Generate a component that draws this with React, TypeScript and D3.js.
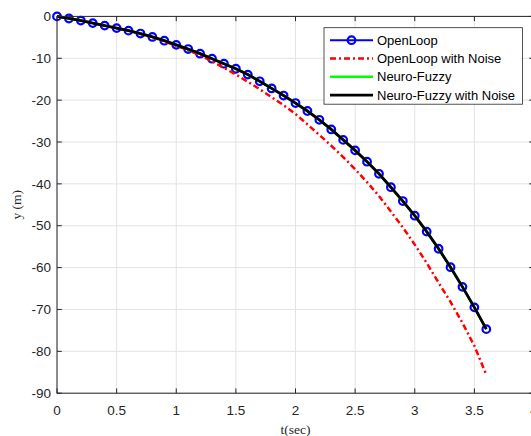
import React from 'react';
import * as d3 from 'd3';

const tValues = [0, 0.1, 0.2, 0.3, 0.4, 0.5, 0.6, 0.7, 0.8, 0.9, 1.0, 1.1, 1.2, 1.3, 1.4, 1.5, 1.6, 1.7, 1.8, 1.9, 2.0, 2.1, 2.2, 2.3, 2.4, 2.5, 2.6, 2.7, 2.8, 2.9, 3.0, 3.1, 3.2, 3.3, 3.4, 3.5, 3.6];

const openLoop = [0, -0.5, -1.0, -1.6, -2.2, -2.8, -3.4, -4.1, -4.9, -5.8, -6.8, -7.8, -8.9, -10.1, -11.3, -12.5, -13.9, -15.5, -17.2, -18.9, -20.7, -22.6, -24.7, -27.0, -29.5, -32.0, -34.7, -37.6, -40.8, -44.1, -47.6, -51.4, -55.5, -59.9, -64.6, -69.5, -74.7];

const openLoopNoise = [0, -0.5, -1.0, -1.6, -2.2, -2.8, -3.4, -4.2, -5.0, -6.0, -7.0, -8.1, -9.3, -10.7, -12.3, -13.9, -15.6, -17.4, -19.3, -21.2, -23.3, -25.8, -28.3, -30.9, -33.6, -36.5, -39.6, -42.9, -46.6, -50.4, -54.5, -58.9, -63.6, -68.2, -73.2, -78.7, -85.6];

const neuroFuzzy = [0, -0.5, -1.0, -1.6, -2.2, -2.8, -3.4, -4.1, -4.9, -5.8, -6.8, -7.8, -8.9, -10.1, -11.3, -12.5, -13.9, -15.5, -17.2, -18.9, -20.7, -22.6, -24.7, -27.0, -29.5, -32.0, -34.7, -37.6, -40.8, -44.1, -47.6, -51.4, -55.5, -59.9, -64.6, -69.5, -74.7];

const neuroFuzzyNoise = [0, -0.5, -1.0, -1.6, -2.2, -2.8, -3.4, -4.1, -4.9, -5.8, -6.8, -7.8, -8.9, -10.1, -11.3, -12.5, -13.9, -15.5, -17.2, -18.9, -20.7, -22.6, -24.7, -27.0, -29.5, -32.0, -34.7, -37.6, -40.8, -44.1, -47.6, -51.4, -55.5, -59.9, -64.6, -69.5, -74.7];

const xTicks = [0, 0.5, 1, 1.5, 2, 2.5, 3, 3.5, 4];
const yTicks = [0, -10, -20, -30, -40, -50, -60, -70, -80, -90];
const legendLabels = ['OpenLoop', 'OpenLoop with Noise', 'Neuro-Fuzzy', 'Neuro-Fuzzy with Noise'];

const W = 531;
const H = 436;
const left = 57;
const right = 534;
const top = 16.4;
const bottom = 393.2;
const axisColor = '#262626';
const gridColor = '#e3e3e3';
const sans = 'Arial, "Liberation Sans", Helvetica, sans-serif';
const serif = '"Times New Roman", "Liberation Serif", serif';

export default function App() {
  const x = d3.scaleLinear().domain([0, 4]).range([left, right]);
  const y = d3.scaleLinear().domain([-90, 0]).range([bottom, top]);

  const mk = (vals: number[]) =>
    d3
      .line<number>()
      .x((_, i) => x(tValues[i]))
      .y((v) => y(v))(vals) || '';

  const tickLen = 4.8;
  const legX = 324;
  const legY = 27.7;
  const legW = 198.5;
  const legH = 76.5;
  const rowY = (i: number) => legY + 12.5 + i * 18.3;
  const sx0 = legX + 6;
  const sx1 = legX + 49;

  const styles = [
    { stroke: '#0000ff', width: 2, dash: undefined as string | undefined },
    { stroke: '#ff0000', width: 2.5, dash: '6,3,2,3' },
    { stroke: '#00ff00', width: 2.5, dash: undefined },
    { stroke: '#000000', width: 2.8, dash: undefined },
  ];

  return (
    <svg
      width={W}
      height={H}
      style={{ position: 'fixed', left: 0, top: 0, background: '#fff' }}
    >
      <rect x={0} y={0} width={W} height={H} fill="#fff" />
      {xTicks.map((t) => (
        <line key={'gx' + t} x1={x(t)} x2={x(t)} y1={top} y2={bottom} stroke={gridColor} strokeWidth={1} />
      ))}
      {yTicks.map((t) => (
        <line key={'gy' + t} x1={left} x2={right} y1={y(t)} y2={y(t)} stroke={gridColor} strokeWidth={1} />
      ))}
      <path d={mk(openLoop)} fill="none" stroke={styles[0].stroke} strokeWidth={styles[0].width} />
      {openLoop.map((v, i) => (
        <circle key={'c' + i} cx={x(tValues[i])} cy={y(v)} r={3.8} fill="none" stroke="#0000ff" strokeWidth={2.2} />
      ))}
      <path d={mk(openLoopNoise)} fill="none" stroke={styles[1].stroke} strokeWidth={styles[1].width} strokeDasharray={styles[1].dash} />
      <path d={mk(neuroFuzzy)} fill="none" stroke={styles[2].stroke} strokeWidth={styles[2].width} />
      <path d={mk(neuroFuzzyNoise)} fill="none" stroke={styles[3].stroke} strokeWidth={styles[3].width} />
      <rect x={left} y={top} width={right - left} height={bottom - top} fill="none" stroke={axisColor} strokeWidth={1} />
      {xTicks.map((t) => (
        <g key={'tx' + t}>
          <line x1={x(t)} x2={x(t)} y1={bottom} y2={bottom - tickLen} stroke={axisColor} />
          <line x1={x(t)} x2={x(t)} y1={top} y2={top + tickLen} stroke={axisColor} />
          <text x={x(t)} y={415} textAnchor="middle" fontFamily={sans} fontSize={13.5} fill={axisColor}>
            {String(t)}
          </text>
        </g>
      ))}
      {yTicks.map((t) => (
        <g key={'ty' + t}>
          <line x1={left} x2={left + tickLen} y1={y(t)} y2={y(t)} stroke={axisColor} />
          <line x1={right} x2={right - tickLen} y1={y(t)} y2={y(t)} stroke={axisColor} />
          <text x={51} y={y(t) + 4.7} textAnchor="end" fontFamily={sans} fontSize={13.5} fill={axisColor}>
            {String(t)}
          </text>
        </g>
      ))}
      <text x={(left + right) / 2} y={434} textAnchor="middle" fontFamily={serif} fontSize={13.5} fill={axisColor}>
        t(sec)
      </text>
      <text
        transform={`translate(21, ${(top + bottom) / 2}) rotate(-90)`}
        textAnchor="middle"
        fontFamily={serif}
        fontSize={13.5}
        fill={axisColor}
      >
        y (m)
      </text>
      <rect x={legX} y={legY} width={legW} height={legH} fill="#fff" stroke={axisColor} strokeWidth={0.8} />
      {legendLabels.map((lab, i) => (
        <g key={lab}>
          <line
            x1={sx0}
            x2={sx1}
            y1={rowY(i)}
            y2={rowY(i)}
            stroke={styles[i].stroke}
            strokeWidth={styles[i].width}
            strokeDasharray={styles[i].dash}
          />
          {i === 0 && (
            <circle cx={(sx0 + sx1) / 2} cy={rowY(i)} r={3.8} fill="none" stroke="#0000ff" strokeWidth={2.2} />
          )}
          <text x={legX + 53} y={rowY(i) + 4.5} fontFamily={sans} fontSize={13} fill="#000">
            {lab}
          </text>
        </g>
      ))}
    </svg>
  );
}
